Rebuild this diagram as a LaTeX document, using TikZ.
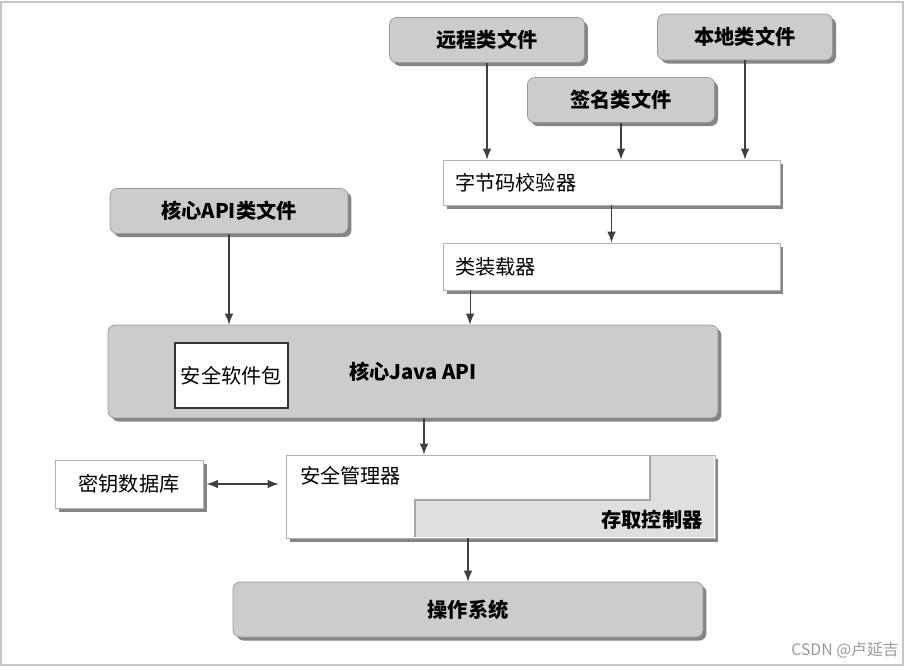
\documentclass[tikz,border=0pt]{standalone}
\usepackage{fontspec}
\setmainfont{Noto Sans CJK SC}
\usetikzlibrary{arrows.meta,shadows}

\begin{document}
\begin{tikzpicture}[x=0.02cm, y=-0.02cm,
    font=\fontsize{11.5}{14}\selectfont,
    classfile/.style={rounded corners=4pt, draw=gray!80, fill=gray!40, font=\fontsize{11.5}{14}\selectfont\bfseries,
        drop shadow={shadow xshift=2pt, shadow yshift=-2pt, fill=black!60, opacity=0.8}},
    plainbox/.style={draw=gray!60, fill=white,
        drop shadow={shadow xshift=2pt, shadow yshift=-2pt, fill=black!60, opacity=0.8}},
    link/.style={-{Latex[length=2.2mm, width=1.7mm]}, draw=black!75, line width=0.6pt}]
    \useasboundingbox (0,0) rectangle (910,667);
    \draw[gray!45, line width=0.8pt] (1,2) rectangle (903,665);

    \node[classfile, minimum width=3.9cm, minimum height=0.9cm] (remote) at (487, 40) {远程类文件};
    \node[classfile, minimum width=3.5cm, minimum height=0.92cm] (local) at (745, 37) {本地类文件};
    \node[classfile, minimum width=3.74cm, minimum height=0.9cm] (signed) at (621, 100) {签名类文件};
    \node[classfile, minimum width=4.76cm, minimum height=0.9cm] (apifiles) at (229, 211) {核心API类文件};

    \node[plainbox, text width=6.26cm, inner xsep=0.24cm, minimum height=0.9cm, align=left] (verifier) at (611.5, 182.5) {字节码校验器};
    \node[plainbox, text width=6.26cm, inner xsep=0.24cm, minimum height=0.94cm, align=left] (loader) at (611.5, 266.5) {类装载器};

    \node[classfile, minimum width=12.2cm, minimum height=1.86cm] (corejava) at (413, 371.5) {核心Java API};
    \node[draw=black!80, fill=white, line width=0.6pt, minimum width=2.26cm, minimum height=1.3cm] (secpkg) at (231.5, 375.5) {安全软件包};

    \node[plainbox, minimum width=2.96cm, minimum height=0.96cm] (keydb) at (129, 484) {密钥数据库};
    \node[plainbox, minimum width=8.58cm, minimum height=1.66cm,
        label={[anchor=north west, inner xsep=0.28cm, inner ysep=0.22cm]north west:安全管理器}] (secmgr) at (500.5, 496.5) {};
    \fill[gray!25] (650,456) -- (714,456) -- (714,537) -- (415,537) -- (415,500) -- (650,500) -- cycle;
    \draw[gray!70, line width=0.6pt] (415,537) -- (415,500) -- (650,500) -- (650,456);
    \node[anchor=south east, inner xsep=0.25cm, inner ysep=0.18cm, font=\fontsize{11.5}{14}\selectfont\bfseries] (access) at (secmgr.south east) {存取控制器};

    \node[classfile, minimum width=9.4cm, minimum height=1.1cm] (os) at (468, 609.5) {操作系统};

    \node[text=gray!80, font=\fontsize{9}{11}\selectfont] (mark) at (845, 650) {CSDN @卢延吉};

    \coordinate (ldout) at ([xshift=-2.83cm]loader.south);
    \coordinate (jout) at ([xshift=0.22cm]corejava.south);

    \draw[link] (remote.south) -- (remote.south |- verifier.north);
    \draw[link] (signed.south) -- (signed.south |- verifier.north);
    \draw[link] (local.south) -- (local.south |- verifier.north);
    \draw[link] (verifier.south) -- (loader.north);
    \draw[link] (ldout) -- (ldout |- corejava.north);
    \draw[link] (apifiles.south) -- (apifiles.south |- corejava.north);
    \draw[link] (jout) -- (jout |- secmgr.north);
    \draw[link, {Latex[length=2.2mm, width=1.7mm]}-{Latex[length=2.2mm, width=1.7mm]}] ([xshift=2pt]keydb.east) -- ([xshift=-4pt]keydb.east -| secmgr.west);
    \draw[link] (os.north |- secmgr.south) -- (os.north);

\end{tikzpicture}
\end{document}
